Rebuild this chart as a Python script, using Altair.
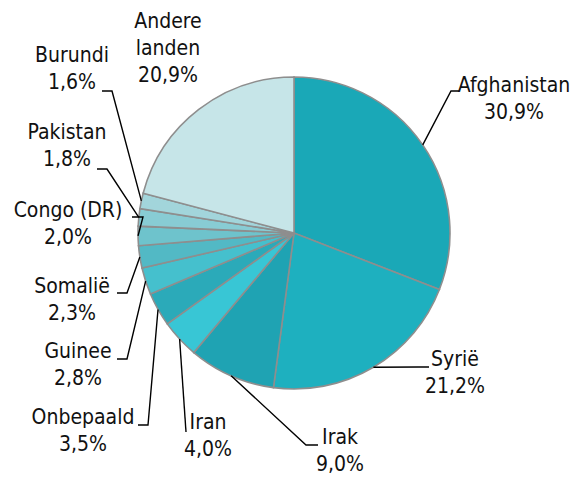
import math
import altair as alt
import pandas as pd

# ---------------- data ----------------
countries = ["Afghanistan", "Syrië", "Irak", "Iran", "Onbepaald", "Guinee",
             "Somalië", "Congo (DR)", "Pakistan", "Burundi", "Andere landen"]
shares = [30.9, 21.2, 9.0, 4.0, 3.5, 2.8, 2.3, 2.0, 1.8, 1.6, 20.9]
label_names = ["Afghanistan", "Syrië", "Irak", "Iran", "Onbepaald", "Guinee",
               "Somalië", "Congo (DR)", "Pakistan", "Burundi", "Andere\nlanden"]

# ---------------- style / layout ----------------
colors = ["#1AA8B7", "#1EB0BF", "#1FA3B3", "#38C6D5", "#2BAAB9", "#45C0CD",
          "#52B9C5", "#6EC3CC", "#88CCD4", "#A2D5DB", "#C6E5E8"]
W, H = 562, 467
M = 8  # page margin
CX, CY, R = 294 - M, 233 - M, 156

# first-line centres of labels (page pixels)
label_xy = {
    "Afghanistan": (514, 86), "Syrië": (455, 360), "Irak": (340, 438),
    "Iran": (208, 423), "Onbepaald": (83, 418), "Guinee": (78, 352),
    "Somalië": (72, 287), "Congo (DR)": (68, 211), "Pakistan": (67, 133),
    "Burundi": (72, 56), "Andere landen": (168, 22),
}
# leader-line elbow / end points (page pixels), edge point comes from the data
leader_xy = {
    "Afghanistan": [(451, 91), (459, 91)],
    "Syrië": [(418, 367), (429, 367)],
    "Irak": [(306, 445), (318, 445)],
    "Iran": [(186, 432)],
    "Onbepaald": [(148, 425), (138, 425)],
    "Guinee": [(127, 359), (117, 359)],
    "Somalië": [(127, 293), (117, 293)],
    "Congo (DR)": [(143, 217), (132, 217)],
    "Pakistan": [(107, 169), (97, 169)],
    "Burundi": [(112, 91), (102, 91)],
}

pie_df = pd.DataFrame({"country": countries, "share": shares,
                       "idx": list(range(len(countries)))})

# leader lines
rows = []
total = sum(shares)
cum = 0.0
for c, v in zip(countries, shares):
    mid = (cum + v / 2) / total * 2 * math.pi
    cum += v
    if c not in leader_xy:
        continue
    ex = CX + R * math.sin(mid)
    ey = CY - R * math.cos(mid)
    rows.append({"country": c, "seq": 0, "px": ex, "py": ey})
    for i, (px, py) in enumerate(leader_xy[c], start=1):
        rows.append({"country": c, "seq": i, "px": px - M, "py": py - M})
line_df = pd.DataFrame(rows)

text_df = pd.DataFrame({
    "text": [f"{n}\n{v:.1f}%".replace(".", ",") for n, v in zip(label_names, shares)],
    "px": [label_xy[c][0] - M for c in countries],
    "py": [label_xy[c][1] - M for c in countries],
})

xs = alt.Scale(domain=[0, W], range=[0, W])
ys = alt.Scale(domain=[0, H], range=[0, H])

arcs = alt.Chart(pie_df).mark_arc(
    outerRadius=R, stroke="#8E8E8E", strokeWidth=1.6
).encode(
    theta=alt.Theta("share:Q", stack=True),
    order=alt.Order("idx:Q"),
    color=alt.Color("country:N", scale=alt.Scale(domain=countries, range=colors), legend=None),
    x=alt.value(CX),
    y=alt.value(CY),
)

lines = alt.Chart(line_df).mark_line(color="black", strokeWidth=1.4).encode(
    x=alt.X("px:Q", scale=xs, axis=None),
    y=alt.Y("py:Q", scale=ys, axis=None),
    detail="country:N",
    order="seq:Q",
)

texts = alt.Chart(text_df).mark_text(
    font="DejaVu Sans Condensed, DejaVu Sans", fontSize=21, lineHeight=27,
    lineBreak="\n", align="center", baseline="middle", color="#111111"
).encode(
    x=alt.X("px:Q", scale=xs, axis=None),
    y=alt.Y("py:Q", scale=ys, axis=None),
    text="text:N",
)

chart = alt.layer(arcs, lines, texts).properties(
    width=W, height=H, autosize="none", padding=0
).configure_view(stroke=None)

chart.save("out.html", embed_options={"renderer": "svg", "actions": False})
